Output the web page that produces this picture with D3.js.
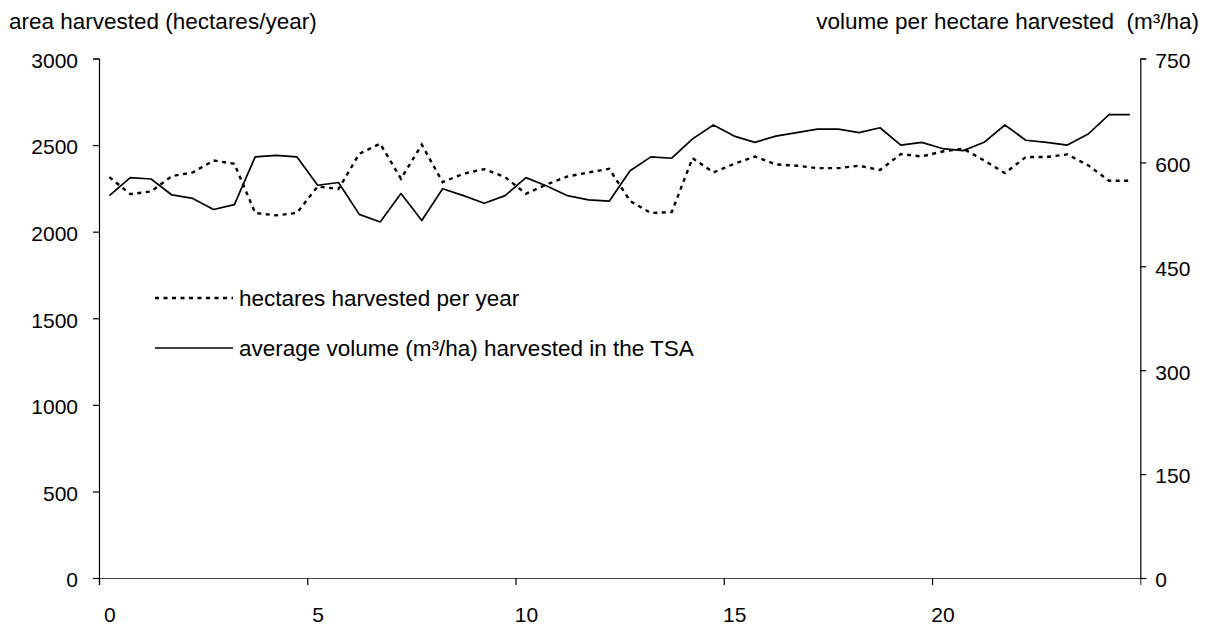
<!DOCTYPE html>
<html>
<head>
<meta charset="utf-8">
<script src="https://cdn.jsdelivr.net/npm/d3@7"></script>
<style>
  html, body { margin: 0; padding: 0; background: #fff; }
  svg { display: block; font-family: "Liberation Sans", Arial, sans-serif; }
  text { white-space: pre; }
</style>
</head>
<body>
<svg id="chart" width="1209" height="627"></svg>
<script>
// Harvest period (years from start), one entry per half-year category
const periods = [
  0, 0.5, 1, 1.5, 2, 2.5, 3, 3.5, 4, 4.5,
  5, 5.5, 6, 6.5, 7, 7.5, 8, 8.5, 9, 9.5,
  10, 10.5, 11, 11.5, 12, 12.5, 13, 13.5, 14, 14.5,
  15, 15.5, 16, 16.5, 17, 17.5, 18, 18.5, 19, 19.5,
  20, 20.5, 21, 21.5, 22, 22.5, 23, 23.5, 24, 24.5
];

// Area harvested (hectares/year) – left axis
const hectaresPerYear = [
  2315, 2217, 2232, 2321, 2342, 2411, 2392, 2108, 2094, 2108,
  2261, 2246, 2450, 2508, 2306, 2502, 2286, 2335, 2361, 2315,
  2219, 2273, 2319, 2342, 2363, 2177, 2108, 2113, 2425, 2342,
  2392, 2434, 2388, 2381, 2367, 2367, 2381, 2356, 2448, 2434,
  2463, 2479, 2411, 2338, 2431, 2431, 2446, 2383, 2294, 2294
];

// Average volume per hectare harvested (m³/ha) – right axis
const volumePerHectare = [
  552, 578, 576, 553, 548, 532, 539, 608, 610, 608,
  567, 571, 525, 514, 555, 516, 562, 552, 541, 552,
  578, 566, 552, 546, 544, 588, 608, 606, 634, 654,
  638, 629, 638, 643, 648, 648, 643, 650, 625, 629,
  620, 617, 629, 654, 632, 629, 625, 641, 669, 669
];

const xTicks = [0, 5, 10, 15, 20];
const leftTicks = [0, 500, 1000, 1500, 2000, 2500, 3000];
const rightTicks = [0, 150, 300, 450, 600, 750];

const leftTitle = "area harvested (hectares/year)";
const rightTitle = "volume per hectare harvested  (m³/ha)";
const legendLabels = ["hectares harvested per year", "average volume (m³/ha) harvested in the TSA"];

const svg = d3.select("#chart");
const plot = { left: 99, right: 1140.3, top: 58.5, bottom: 578 };
const tickFont = 21;
const textFont = 22.5;
const catHalf = 0.25; // half a category width, in period units

const x = d3.scaleLinear().domain([0, 25]).range([plot.left, plot.right]);
const yL = d3.scaleLinear().domain([0, 3000]).range([plot.bottom, plot.top]);
const yR = d3.scaleLinear().domain([0, 750]).range([plot.bottom, plot.top]);

// Axes
const xAxis = svg.append("g")
  .attr("transform", `translate(0,${plot.bottom})`)
  .call(d3.axisBottom(x).tickValues(xTicks).tickSize(7).tickPadding(22).tickFormat(d3.format("d")));
// category labels sit in the middle of their category
xAxis.selectAll(".tick text").attr("x", x(catHalf) - x(0));

const lAxis = svg.append("g")
  .attr("transform", `translate(${plot.left},0)`)
  .call(d3.axisLeft(yL).tickValues(leftTicks).tickSize(6).tickPadding(15).tickFormat(d3.format("d")));

const rAxis = svg.append("g")
  .attr("transform", `translate(${plot.right},0)`)
  .call(d3.axisRight(yR).tickValues(rightTicks).tickSize(6).tickPadding(9).tickFormat(d3.format("d")));

[xAxis, lAxis, rAxis].forEach(g => {
  g.select(".domain").attr("stroke", "#000").attr("stroke-width", 1.2);
  g.selectAll(".tick line").attr("stroke", "#000").attr("stroke-width", 1.2);
  g.selectAll(".tick text").attr("fill", "#000").style("font-size", tickFont + "px")
    .style("font-family", "'Liberation Sans', Arial, sans-serif");
});
xAxis.select(".domain").attr("stroke", "#444");
lAxis.selectAll(".tick text").attr("dy", "0.42em");
rAxis.selectAll(".tick text").attr("dy", "0.42em");

// Axis titles
svg.append("text").attr("x", 9).attr("y", 29)
  .style("font-size", textFont + "px").attr("fill", "#000").text(leftTitle);
svg.append("text").attr("x", 1199).attr("y", 29).attr("text-anchor", "end")
  .style("font-size", textFont + "px").attr("fill", "#000").text(rightTitle);

// Series
const rows = periods.map((p, i) => ({ p, ha: hectaresPerYear[i], vol: volumePerHectare[i] }));

const haLine = d3.line().x(d => x(d.p + catHalf)).y(d => yL(d.ha));
const volLine = d3.line().x(d => x(d.p + catHalf)).y(d => yR(d.vol));

svg.append("path").datum(rows).attr("d", haLine)
  .attr("fill", "none").attr("stroke", "#000").attr("stroke-width", 2.4)
  .attr("stroke-dasharray", "4,4.5");

svg.append("path").datum(rows).attr("d", volLine)
  .attr("fill", "none").attr("stroke", "#000").attr("stroke-width", 1.7)
  .attr("stroke-linejoin", "round");

// Legend
const legend = svg.append("g");
const legendY = [298, 348];
const styles = [
  { w: 2.4, dash: "4,4.5" },
  { w: 1.7, dash: null }
];
legendLabels.forEach((lab, i) => {
  legend.append("line")
    .attr("x1", 155).attr("x2", 233).attr("y1", legendY[i]).attr("y2", legendY[i])
    .attr("stroke", "#000").attr("stroke-width", styles[i].w)
    .attr("stroke-dasharray", styles[i].dash);
  legend.append("text").attr("x", 239).attr("y", legendY[i]).attr("dy", "0.36em")
    .style("font-size", textFont + "px").attr("fill", "#000").text(lab);
});
</script>
</body>
</html>
